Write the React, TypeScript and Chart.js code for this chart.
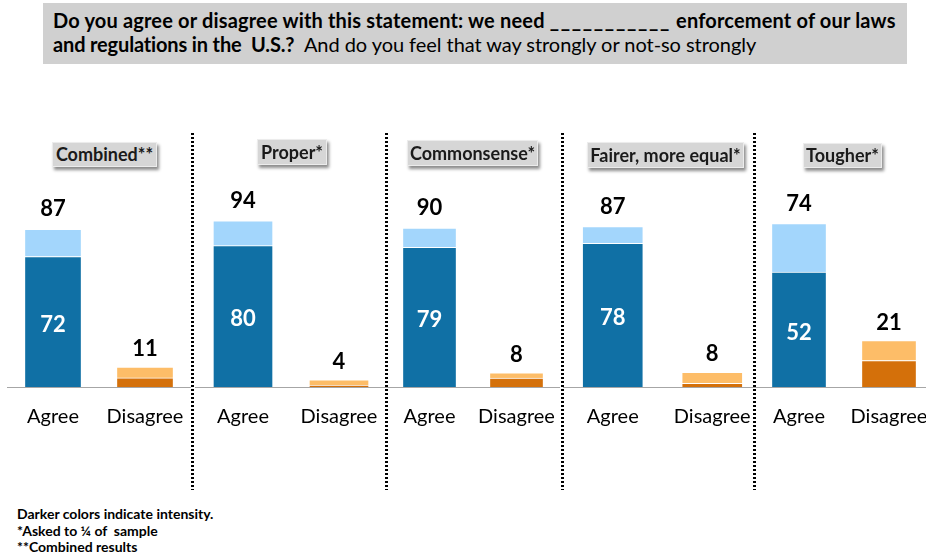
import React, { useEffect, useRef } from "react";
import { Chart, registerables } from "chart.js";

Chart.register(...registerables);

// ---------- data ----------
const panelTitles = ["Combined**", "Proper*", "Commonsense*", "Fairer, more equal*", "Tougher*"];
const categories = ["Agree", "Disagree"];
const agreeTotal = [87, 94, 90, 87, 74];
const agreeStrong = [72, 80, 79, 78, 52];
const disagreeTotal = [11, 4, 8, 8, 21];
const disagreeStrong = [5, 1, 5, 2, 12];

const titleLine1a = "Do you agree or disagree with this statement: we need ";
const titleBlank = "___________";
const titleLine1b = " enforcement of our laws";
const titleLine2Bold = "and regulations in the  U.S.?";
const titleLine2Regular = "  And do you feel that way strongly or not-so strongly";
const footnotes = ["Darker colors indicate intensity.", "*Asked to \u00BC of  sample", "**Combined results"];

// ---------- styles / layout ----------
const DARK_BLUE = "#1070a5";
const LIGHT_BLUE = "#a3d6fc";
const DARK_ORANGE = "#d4700a";
const LIGHT_ORANGE = "#fdbd68";
const FONT = "Lato, 'Open Sans', sans-serif";

const CANVAS_TOP = 175;
const CANVAS_H = 282;
const TICK_PAD = 18;
const PAD_BOTTOM = 10;

const PANEL_LAYOUT = [
  { left: 7, width: 184, bar: 57, yMax: 117, box: { x: 52, y: 142, w: 105, h: 25 } },
  { left: 195, width: 192, bar: 60, yMax: 120, box: { x: 257, y: 139, w: 70, h: 26 } },
  { left: 386, width: 174, bar: 54, yMax: 120, box: { x: 407, y: 140, w: 131, h: 26 } },
  { left: 563, width: 199, bar: 61, yMax: 115, box: { x: 587, y: 142, w: 157, h: 26 } },
  { left: 754, width: 180, bar: 55, yMax: 96, box: { x: 803, y: 143, w: 79, h: 25 } },
];
const DIVIDERS = [192, 386, 562, 754];

function Panel({ idx }: { idx: number }) {
  const ref = useRef<HTMLCanvasElement>(null);
  const L = PANEL_LAYOUT[idx];
  useEffect(() => {
    if (!ref.current) return;
    const strong = [agreeStrong[idx], disagreeStrong[idx]];
    const totals = [agreeTotal[idx], disagreeTotal[idx]];
    const notSo = [totals[0] - strong[0], totals[1] - strong[1]];
    const labelPlugin = {
      id: "valueLabels" + idx,
      afterDatasetsDraw(chart: any) {
        const ctx = chart.ctx;
        const m0 = chart.getDatasetMeta(0);
        const m1 = chart.getDatasetMeta(1);
        ctx.save();
        ctx.textAlign = "center";
        ctx.textBaseline = "alphabetic";
        ctx.font = `bold 22px ${FONT}`;
        for (let i = 0; i < totals.length; i++) {
          const top = m1.data[i];
          ctx.fillStyle = "#000";
          ctx.fillText(String(totals[i]), top.x, top.y - (i === 0 ? 13 : 11));
        }
        const d = m0.data[0];
        ctx.fillStyle = "#fff";
        ctx.fillText(String(strong[0]), d.x, (d.y + d.base) / 2 + 10);
        ctx.restore();
      },
    };
    const chart = new Chart(ref.current, {
      type: "bar",
      data: {
        labels: categories,
        datasets: [
          {
            label: "Strongly",
            data: strong,
            backgroundColor: [DARK_BLUE, DARK_ORANGE],
            borderColor: "#ffffff",
            borderWidth: 1,
            borderSkipped: "start",
            barThickness: L.bar,
          },
          {
            label: "Not-so strongly",
            data: notSo,
            backgroundColor: [LIGHT_BLUE, LIGHT_ORANGE],
            borderColor: "#ffffff",
            borderWidth: 1,
            borderSkipped: "start",
            barThickness: L.bar,
          },
        ],
      },
      options: {
        responsive: false,
        animation: false,
        devicePixelRatio: 1,
        layout: { padding: { top: 0, left: 0, right: 0, bottom: PAD_BOTTOM } },
        plugins: { legend: { display: false }, tooltip: { enabled: false } },
        scales: {
          x: {
            stacked: true,
            grid: { display: false, drawTicks: false },
            border: { display: true, color: "#a6a6a6", width: 1 },
            ticks: {
              color: "#000",
              font: { family: FONT, size: 20 },
              padding: TICK_PAD,
              maxRotation: 0,
              autoSkip: false,
            },
            afterFit(scale: any) {
              scale.paddingLeft = 0;
              scale.paddingRight = 0;
            },
          },
          y: { stacked: true, display: false, min: 0, max: L.yMax },
        },
      },
      plugins: [labelPlugin],
    } as any);
    return () => chart.destroy();
  }, [idx]);
  return (
    <canvas
      ref={ref}
      width={L.width}
      height={CANVAS_H}
      style={{ position: "absolute", left: L.left, top: CANVAS_TOP, width: L.width, height: CANVAS_H }}
    />
  );
}

export default function App() {
  return (
    <div
      style={{
        position: "absolute",
        left: 0,
        top: 0,
        width: 926,
        height: 557,
        overflow: "hidden",
        background: "#fff",
        fontFamily: FONT,
      }}
    >
      <div
        style={{
          position: "absolute",
          left: 43,
          top: 3,
          width: 864,
          height: 61,
          background: "#d0d0d0",
          boxSizing: "border-box",
          paddingLeft: 10,
          paddingTop: 5,
          fontSize: 20,
          lineHeight: "24px",
          color: "#000",
          whiteSpace: "pre",
        }}
      >
        <div style={{ fontWeight: 700, letterSpacing: "0.17px" }}>
          {titleLine1a}
          <span style={{ letterSpacing: "1.7px" }}>{titleBlank}</span>
          {titleLine1b}
        </div>
        <div>
          <span style={{ fontWeight: 700, letterSpacing: "-0.15px" }}>{titleLine2Bold}</span>
          <span style={{ letterSpacing: "-0.05px" }}>{titleLine2Regular}</span>
        </div>
      </div>

      {PANEL_LAYOUT.map((_, i) => (
        <Panel key={i} idx={i} />
      ))}

      {DIVIDERS.map((x, i) => (
        <div
          key={"d" + i}
          style={{
            position: "absolute",
            left: x - 1,
            top: 133,
            width: 3,
            height: 357,
            background: "repeating-linear-gradient(to bottom, #000 0px, #000 2px, transparent 2px, transparent 4px)",
          }}
        />
      ))}

      {PANEL_LAYOUT.map((L, i) => (
        <div
          key={"b" + i}
          style={{
            position: "absolute",
            left: L.box.x,
            top: L.box.y,
            width: L.box.w,
            height: L.box.h,
            boxSizing: "border-box",
            background: "#d6d6d6",
            border: "1px solid #ececec",
            boxShadow: "2px 3px 3px rgba(0,0,0,0.45)",
            fontWeight: 700,
            fontSize: 18,
            lineHeight: `${L.box.h - 2}px`,
            textAlign: "center",
            color: "#1a1a1a",
            whiteSpace: "nowrap",
          }}
        >
          {panelTitles[i]}
        </div>
      ))}

      <div
        style={{
          position: "absolute",
          left: 17,
          top: 506,
          fontWeight: 700,
          fontSize: 14,
          lineHeight: "16.5px",
          color: "#000",
          whiteSpace: "pre",
        }}
      >
        {footnotes.map((f, i) => (
          <div key={i}>{f}</div>
        ))}
      </div>
    </div>
  );
}
